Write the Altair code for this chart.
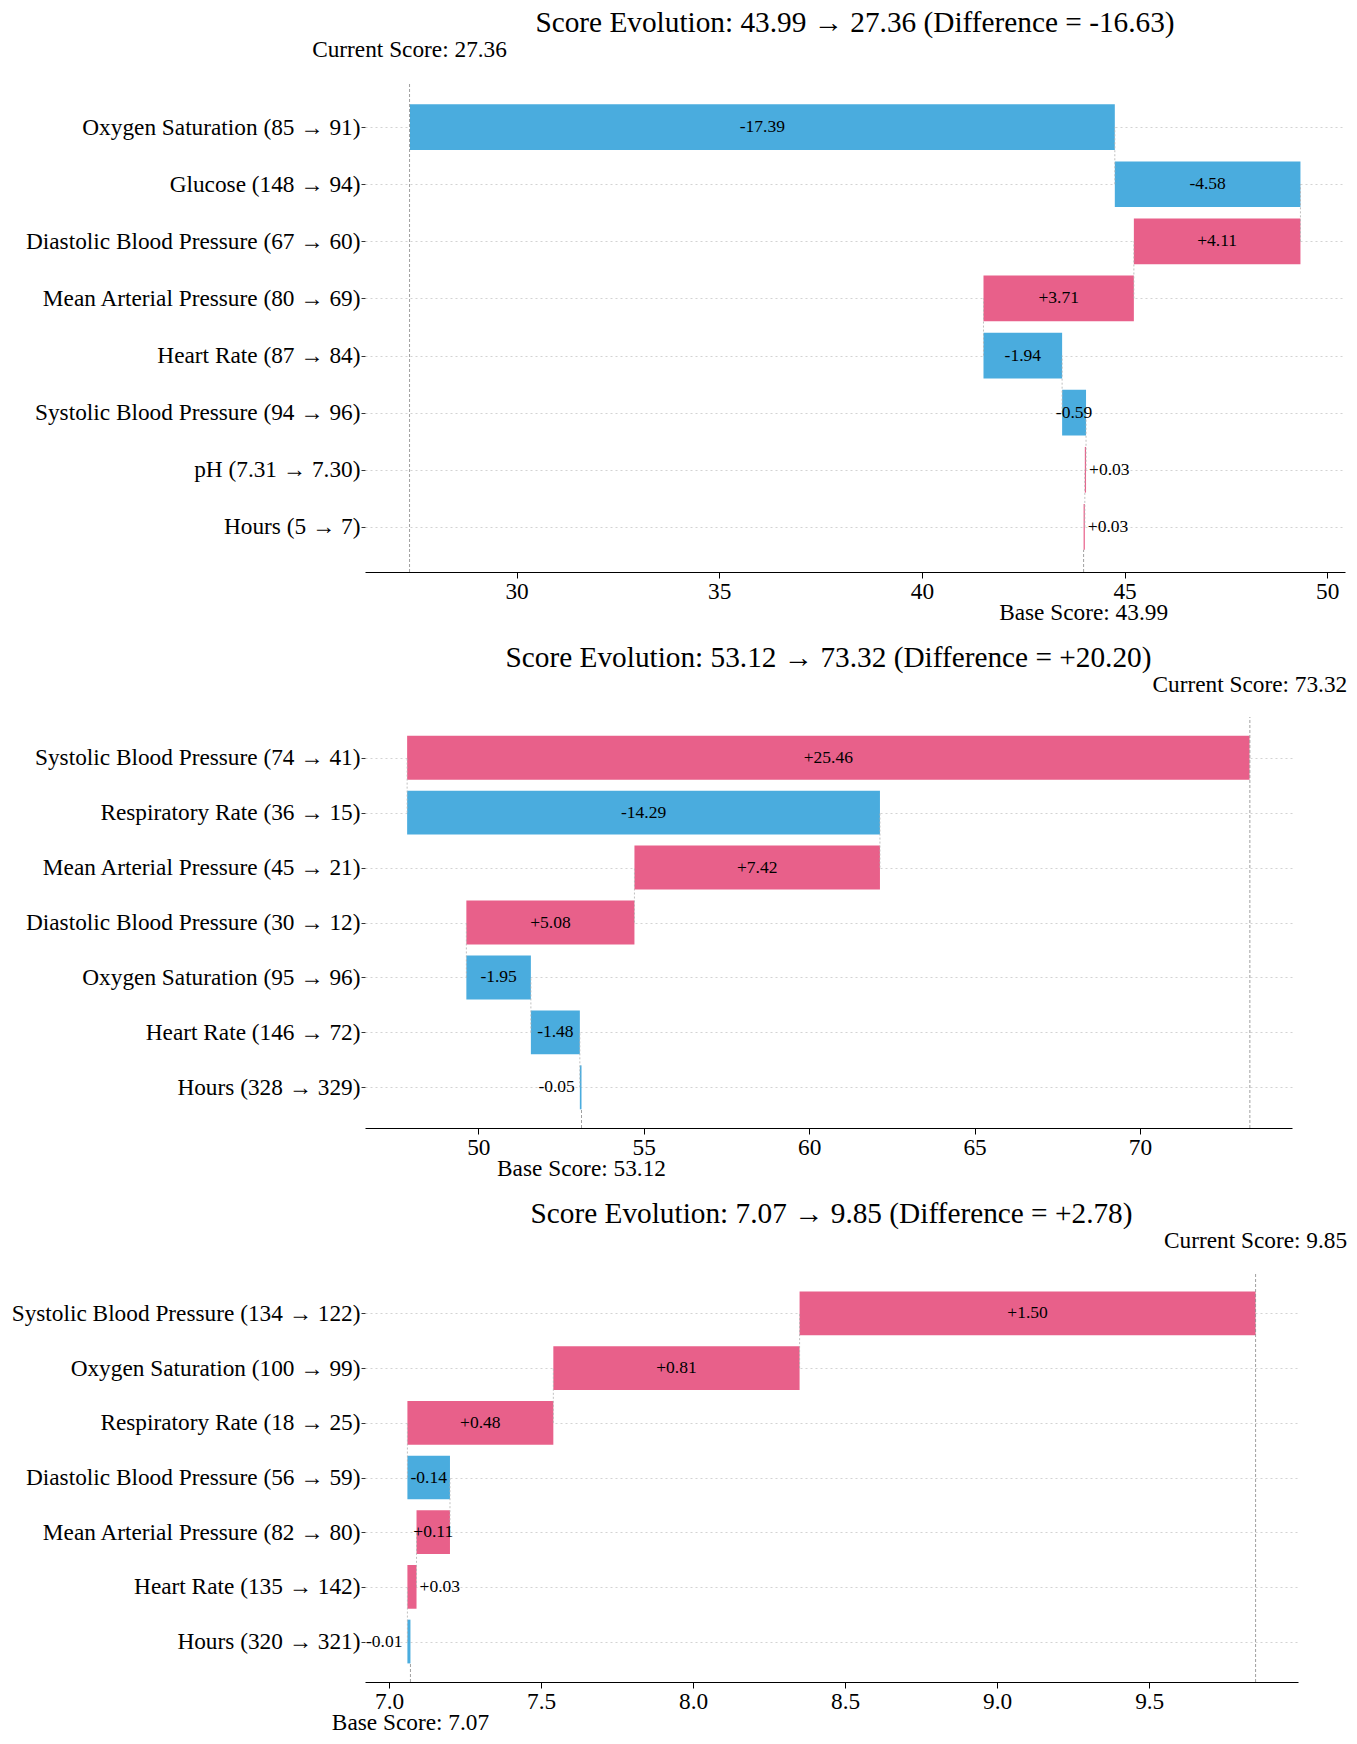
import json
import altair as alt
import pandas as pd

FONT = "Liberation Serif, DejaVu Serif"
POS_COLOR = "#E8608A"
NEG_COLOR = "#4AACDE"

# ---------------- data (rows listed top to bottom as drawn) ----------------
features1 = ["Oxygen Saturation (85 → 91)", "Glucose (148 → 94)",
             "Diastolic Blood Pressure (67 → 60)", "Mean Arterial Pressure (80 → 69)",
             "Heart Rate (87 → 84)", "Systolic Blood Pressure (94 → 96)",
             "pH (7.31 → 7.30)", "Hours (5 → 7)"]
contrib1 = [-17.39, -4.58, 4.11, 3.71, -1.94, -0.59, 0.03, 0.03]
base1 = 43.99
current1 = 27.36
ticks1 = [30, 35, 40, 45, 50]

features2 = ["Systolic Blood Pressure (74 → 41)", "Respiratory Rate (36 → 15)",
             "Mean Arterial Pressure (45 → 21)", "Diastolic Blood Pressure (30 → 12)",
             "Oxygen Saturation (95 → 96)", "Heart Rate (146 → 72)",
             "Hours (328 → 329)"]
contrib2 = [25.46, -14.29, 7.42, 5.08, -1.95, -1.48, -0.05]
base2 = 53.12
current2 = 73.32
ticks2 = [50, 55, 60, 65, 70]

features3 = ["Systolic Blood Pressure (134 → 122)", "Oxygen Saturation (100 → 99)",
             "Respiratory Rate (18 → 25)", "Diastolic Blood Pressure (56 → 59)",
             "Mean Arterial Pressure (82 → 80)", "Heart Rate (135 → 142)",
             "Hours (320 → 321)"]
contrib3 = [1.50, 0.81, 0.48, -0.14, 0.11, 0.03, -0.01]
base3 = 7.07
current3 = 9.85
ticks3 = [7.0, 7.5, 8.0, 8.5, 9.0, 9.5]


def panel(features, contribs, base, current, ticks, tick_fmt, width, height):
    n = len(features)
    rows = []
    run = base
    for k in range(n - 1, -1, -1):
        v = contribs[k]
        start, end = run, run + v
        run = end
        rows.append(dict(pos=n - 1 - k, v=v, start=start, end=end,
                         lo=min(start, end), hi=max(start, end),
                         mid=(start + end) / 2,
                         ylo=(n - 1 - k) - 0.4, yhi=(n - 1 - k) + 0.4,
                         label=f"{v:+.2f}",
                         sign="pos" if v > 0 else "neg"))
    df = pd.DataFrame(rows)

    xmin = min(df["lo"].min(), current)
    xmax = max(df["hi"].max(), current)
    pad = 0.05 * (xmax - xmin)
    xdom = [xmin - pad, xmax + pad]
    span = xdom[1] - xdom[0]
    ypad = 0.05 * (n - 1 + 0.8)
    ydom = [-0.4 - ypad, n - 1 + 0.4 + ypad]

    xs = alt.Scale(domain=xdom, nice=False, zero=False)
    ys = alt.Scale(domain=ydom, nice=False, zero=False)

    labels_by_pos = list(reversed(features))
    label_expr = json.dumps(labels_by_pos, ensure_ascii=False) + "[datum.value]"

    xaxis = alt.Axis(values=ticks, format=tick_fmt, title=None, grid=False,
                     domainColor="black", domainWidth=1.2, tickColor="black",
                     tickSize=6, tickWidth=1, labelPadding=2)
    yaxis = alt.Axis(values=list(range(n)), labelExpr=label_expr, title=None,
                     grid=True, gridDash=[2, 3], gridColor="#c8c8c8", gridWidth=0.8,
                     domain=False, tickColor="#333333", tickSize=4, tickWidth=1,
                     labelPadding=1, labelOverlap=False, labelLimit=0)

    def X(field):
        return alt.X(f"{field}:Q", scale=xs, axis=xaxis)

    def Y(field):
        return alt.Y(f"{field}:Q", scale=ys, axis=yaxis)

    bars = alt.Chart(df).mark_rect().encode(
        x=X("start"), x2="end", y=Y("ylo"), y2="yhi",
        color=alt.Color("sign:N", scale=alt.Scale(domain=["pos", "neg"],
                                                  range=[POS_COLOR, NEG_COLOR]),
                        legend=None),
    )

    conn = df[df["pos"] < n - 1].copy()
    conn["y2"] = conn["pos"] + 1
    connectors = alt.Chart(conn).mark_rule(color="#b0b0b0", strokeDash=[2, 2],
                                           strokeWidth=0.8).encode(
        x=X("end"), y=Y("pos"), y2="y2:Q",
    )

    ref = pd.DataFrame([dict(x=current, y=ydom[0], y2=ydom[1]),
                        dict(x=base, y=ydom[0], y2=-0.4)])
    reflines = alt.Chart(ref).mark_rule(color="#888888", strokeDash=[3, 2],
                                        strokeWidth=0.8).encode(
        x=X("x"), y=Y("y"), y2="y2:Q",
    )

    small = df["v"].abs() < 0.02 * span
    df_c = df[~small]
    df_r = df[small & (df["v"] > 0)].copy()
    df_l = df[small & (df["v"] < 0)].copy()

    def txt(d, xfield, align, dx):
        return alt.Chart(d).mark_text(font=FONT, fontSize=17.5, color="black",
                                      align=align, baseline="middle", dx=dx).encode(
            x=X(xfield), y=Y("pos"), text="label:N",
        )

    layers = [bars, connectors, reflines, txt(df_c, "mid", "center", 0)]
    if len(df_r):
        layers.append(txt(df_r, "hi", "left", 3))
    if len(df_l):
        layers.append(txt(df_l, "lo", "right", -5))

    ann = pd.DataFrame([dict(x=current, t=f"Current Score: {current:.2f}")])
    cur_lbl = alt.Chart(ann).mark_text(font=FONT, fontSize=23.3, color="black",
                                       align="center", baseline="middle").encode(
        x=X("x"), y=alt.value(-32), text="t:N")
    ann2 = pd.DataFrame([dict(x=base, t=f"Base Score: {base:.2f}")])
    base_lbl = alt.Chart(ann2).mark_text(font=FONT, fontSize=23.3, color="black",
                                         align="center", baseline="middle").encode(
        x=X("x"), y=alt.value(height + 41), text="t:N")
    layers += [cur_lbl, base_lbl]

    diff = current - base
    title = f"Score Evolution: {base:.2f} → {current:.2f} (Difference = {diff:+.2f})"
    return alt.layer(*layers).properties(
        width=width, height=height,
        title=alt.TitleParams(title, font=FONT, fontSize=29.3, fontWeight="normal",
                              color="black", anchor="middle", offset=0),
    )


p1 = panel(features1, contrib1, base1, current1, ticks1, "d", 980, 490)
p2 = panel(features2, contrib2, base2, current2, ticks2, "d", 927, 411)
p3 = panel(features3, contrib3, base3, current3, ticks3, ".1f", 933, 409)

chart = alt.vconcat(p1, p2, p3, spacing=18).properties(
    padding={"left": 3, "top": 0, "right": 0, "bottom": 0},
    background="white",
).configure_view(stroke=None).configure_axis(
    labelFont=FONT, labelFontSize=23.3, labelColor="black",
)

chart.save("out.html", embed_options={"renderer": "svg", "actions": False})
